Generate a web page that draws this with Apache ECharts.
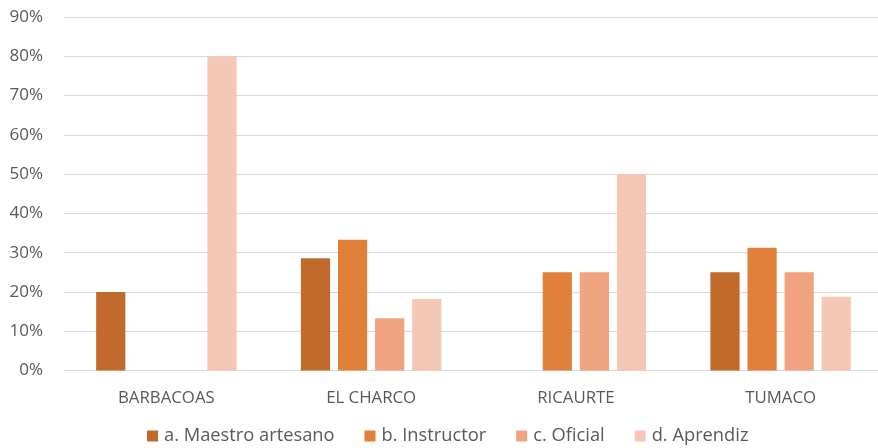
<!DOCTYPE html>
<html><head><meta charset="utf-8">
<script src="https://cdn.jsdelivr.net/npm/echarts@6/dist/echarts.min.js"></script>
<style>html,body{margin:0;padding:0;background:#fff;overflow:hidden}#c{width:883px;height:448px}</style>
</head><body><div id="c"></div>
<script>
const categories = ['BARBACOAS', 'EL CHARCO', 'RICAURTE', 'TUMACO'];
const seriesNames = ['a. Maestro artesano', 'b. Instructor', 'c. Oficial', 'd. Aprendiz'];
const maestro = [0.20, 0.286, 0, 0.25];
const instructor = [0, 0.333, 0.25, 0.3125];
const oficial = [0, 0.133, 0.25, 0.25];
const aprendiz = [0.80, 0.182, 0.50, 0.1875];
const yTicks = [0, 0.1, 0.2, 0.3, 0.4, 0.5, 0.6, 0.7, 0.8, 0.9];
const colors = ['#C16A2C', '#E0803A', '#F1A280', '#F5C7B6'];
const FONT = '"Open Sans", sans-serif';

const values = [maestro, instructor, oficial, aprendiz];
const chart = echarts.init(document.getElementById('c'), null, {renderer: 'canvas'});
chart.setOption({
  animation: false,
  textStyle: {fontFamily: FONT},
  color: colors,
  grid: {left: 64, right: 0, top: 17, bottom: 77.5},
  legend: {
    bottom: -2, left: 142, itemWidth: 11, itemHeight: 11, itemGap: 30,
    icon: 'rect',
    textStyle: {color: '#595959', fontSize: 18.3, fontFamily: FONT, padding: [0, 0, 0, 1]},
    data: seriesNames
  },
  xAxis: {
    type: 'category', data: categories,
    axisLine: {show: true, lineStyle: {color: '#D9D9D9', width: 1}},
    axisTick: {show: false},
    axisLabel: {color: '#595959', fontSize: 16.8, margin: 19, fontFamily: FONT}
  },
  yAxis: {
    type: 'value', min: yTicks[0], max: yTicks[yTicks.length - 1], interval: 0.1,
    axisLine: {show: false}, axisTick: {show: false},
    splitLine: {lineStyle: {color: '#D9D9D9', width: 1}},
    axisLabel: {color: '#595959', fontSize: 17, margin: 21, fontFamily: FONT,
      formatter: v => Math.round(v * 100) + '%'}
  },
  series: seriesNames.map((n, i) => ({
    name: n, type: 'bar', data: values[i],
    barGap: '27%', barCategoryGap: '31.4%',
    itemStyle: {color: colors[i]}
  }))
});
</script></body></html>
